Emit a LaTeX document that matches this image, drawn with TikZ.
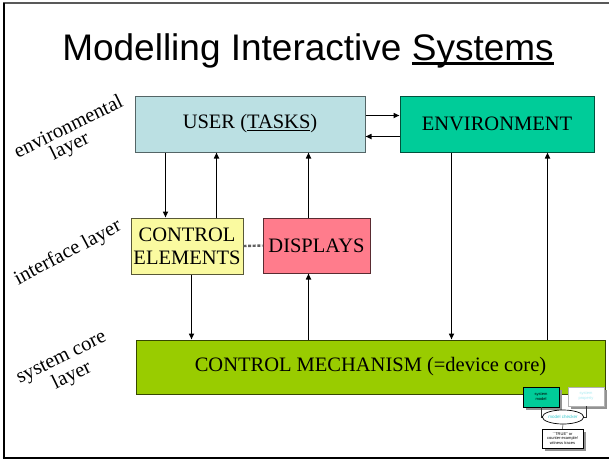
\documentclass[tikz,border=0pt]{standalone}
\usepackage{fontspec}
\setmainfont{Liberation Serif}
\newfontfamily\arialf{Liberation Sans}
\usetikzlibrary{arrows.meta,shapes.geometric,shadows}

\definecolor{userblue}{HTML}{BBE0E3}
\definecolor{envgreen}{HTML}{00CC99}
\definecolor{ctrlyellow}{HTML}{FAFAA0}
\definecolor{disppink}{HTML}{FF7C8C}
\definecolor{coregreen}{HTML}{99CC00}
\definecolor{lightcyan}{HTML}{A8ECF2}
\definecolor{checkcyan}{HTML}{33C8CC}

% thick underline for the heading
\newcommand\headul[2]{\setbox0\hbox{#2}\rlap{\rule[-4.5pt]{\wd0}{#1}}\box0}

\begin{document}
\begin{tikzpicture}[x=1pt,y=-1pt,
  box/.style={draw, line width=1pt, inner sep=0pt, align=center,
    font=\fontsize{20.5}{23}\selectfont},
  arr/.style={line width=1.5pt, -{Triangle[length=6pt,width=5pt]}},
  layerlab/.style={font=\fontsize{20.5}{23}\selectfont, inner sep=0pt},
  tinybox/.style={draw, line width=0.5pt, inner sep=0pt, align=center,
    font=\arialf\fontsize{4}{4.8}\selectfont,
    drop shadow={shadow xshift=3pt, shadow yshift=-3pt, fill=gray!85, opacity=1}},
  tinyline/.style={line width=0.5pt, draw=black!80}
]
\useasboundingbox (0,0) rectangle (609,461);

% slide frame
\draw[line width=1.2pt, gray!70!black] (3,3) -- (609,3);
\draw[line width=2pt] (3.5,2.5) -- (3.5,458);
\draw[line width=2pt] (2.5,458) -- (609,458);

% heading
\node[anchor=base, inner sep=0pt, font=\arialf\fontsize{37}{40}\selectfont]
  (title) at (308,60) {Modelling Interactive \headul{2.2pt}{Systems}};

% layer labels
\node[layerlab, rotate=26] (envlaba) at (68,126) {environmental};
\node[layerlab, rotate=26] (envlabb) at (70,147) {layer};
\node[layerlab, rotate=28] (intlab) at (68,253) {interface layer};
\node[layerlab, rotate=26] (corelaba) at (62,359) {system core};
\node[layerlab, rotate=26] (corelabb) at (72,376) {layer};

% main blocks
\node[box, fill=userblue, draw=userblue!45!black, minimum width=230pt, minimum height=56pt]
  (user) at (250,124) {USER (\underline{TASKS})};
\node[box, fill=envgreen, draw=envgreen!40!black, minimum width=194pt, minimum height=56pt]
  (env) at (497,124) {ENVIRONMENT};
\node[box, fill=ctrlyellow, draw=ctrlyellow!35!black, minimum width=112pt, minimum height=56pt]
  (ce) at (187,246) {CONTROL\\ELEMENTS};
\node[box, fill=disppink, draw=disppink!35!black, minimum width=107pt, minimum height=55pt]
  (disp) at (316.5,245.5) {DISPLAYS};
\node[box, fill=coregreen, draw=coregreen!35!black, minimum width=469pt, minimum height=54pt]
  (cm) at (370.5,367) {CONTROL MECHANISM (=device core)};

% link between control elements and displays
\draw[line width=2.4pt, draw=gray!75!black, dash pattern=on 3pt off 1.6pt] (ce.east) -- (disp.west);

% user <-> environment
\draw[arr] ([yshift=-20pt]user.north east) -- ([yshift=-20pt]env.north west);
\draw[arr] ([yshift=-41pt]env.north west) -- ([yshift=-41pt]user.north east);

% user <-> interface
\draw[arr] ([xshift=35pt]ce.north west |- user.south) -- ([xshift=35pt]ce.north west);
\draw[arr] ([xshift=86pt]ce.north west) -- ([xshift=86pt]ce.north west |- user.south);
\draw[arr] ([xshift=46pt]disp.north west) -- ([xshift=46pt]disp.north west |- user.south);

% interface <-> core
\draw[arr] ([xshift=61pt]ce.south west) -- ([xshift=61pt]ce.south west |- cm.north);
\draw[arr] ([xshift=46pt]disp.south west |- cm.north) -- ([xshift=46pt]disp.south west);

% environment <-> core
\draw[arr] ([xshift=52pt]env.south west) -- ([xshift=52pt]env.south west |- cm.north);
\draw[arr] ([xshift=148pt]env.south west |- cm.north) -- ([xshift=148pt]env.south west);

% model checking sketch
\node[tinybox, fill=envgreen, draw=black, minimum width=36pt, minimum height=20pt]
  (model) at (541,397) {system\\model};
\node[tinybox, fill=white, draw=gray!60, text=lightcyan, minimum width=36pt, minimum height=19pt]
  (prop) at (586,396.5) {system\\property};
\node[tinybox, fill=white, draw=black, minimum width=41pt, minimum height=19pt]
  (out) at (562.5,438.5) {``TRUE'' or\\counter-example/\\witness traces};
\draw[tinyline] (model.south) |- (563,417);
\draw[tinyline] (prop.south) |- (563,417);
\node[ellipse, draw, line width=0.7pt, fill=white, inner sep=0pt, minimum width=35pt, minimum height=14pt,
  text=checkcyan, font=\arialf\fontsize{4.5}{5}\selectfont] (chk) at (563,417) {model checker};
\draw[tinyline] (chk.south) -- (out.north);
\end{tikzpicture}
\end{document}
